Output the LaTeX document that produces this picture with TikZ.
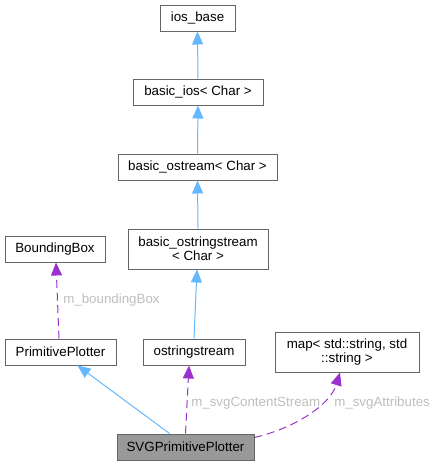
\documentclass[tikz,border=0pt]{standalone}
\usepackage{fontspec}
\setmainfont{Liberation Sans}
\usetikzlibrary{arrows.meta,calc}
\definecolor{inh}{HTML}{63B8FF}
\definecolor{use}{HTML}{9A32CD}
\definecolor{bord}{HTML}{666666}
\definecolor{lbl}{HTML}{BEBEBE}
\definecolor{hl}{HTML}{999999}
\begin{document}
\begin{tikzpicture}[x=0.75pt,y=-0.75pt,
  box/.style={draw=bord, fill=white, line width=0.75pt, inner sep=0pt,
    font=\fontsize{10}{10.5}\selectfont, align=center},
  hlbox/.style={box, fill=hl},
  inhedge/.style={draw=inh, line width=0.75pt, -{Triangle[length=9.75pt,width=8.25pt,fill=inh]}},
  useedge/.style={draw=use, line width=0.75pt, dash pattern=on 6pt off 3.5pt, -{Triangle[length=9.75pt,width=8.25pt,fill=use]}},
  elabel/.style={text=lbl, inner sep=0pt, anchor=west, font=\fontsize{10}{10.5}\selectfont}]
\useasboundingbox (0,0) rectangle (434,465);
\node[box, minimum width={75*0.75pt}, minimum height={26*0.75pt}] (iosb) at (197.5,18) {ios\_base};
\node[box, minimum width={130*0.75pt}, minimum height={26*0.75pt}] (bios) at (198,92) {basic\_ios< Char >};
\node[box, minimum width={159*0.75pt}, minimum height={26*0.75pt}] (bost) at (197.5,167) {basic\_ostream< Char >};
\node[box, minimum width={140*0.75pt}, minimum height={40*0.75pt}] (boss) at (198,249) {basic\_ostringstream\\< Char >};
\node[box, minimum width={100*0.75pt}, minimum height={26*0.75pt}] (bb) at (55,249) {BoundingBox};
\node[box, minimum width={111*0.75pt}, minimum height={26*0.75pt}] (pp) at (60.5,352) {PrimitivePlotter};
\node[box, minimum width={102*0.75pt}, minimum height={26*0.75pt}] (ostr) at (194,352) {ostringstream};
\node[box, minimum width={144*0.75pt}, minimum height={40*0.75pt}] (map) at (347,352) {map< std::string, std\\::string >};
\node[hlbox, minimum width={137*0.75pt}, minimum height={26*0.75pt}] (svg) at (185.5,447) {SVGPrimitivePlotter};

\draw[inhedge] (bios.north) -- (iosb.south);
\draw[inhedge] (bost.north) -- (bios.south);
\draw[inhedge] (boss.north) -- (bost.south);
\draw[inhedge] (ostr.north) -- ($(boss.south)+(-1,0)$);
\draw[inhedge] ($(svg.north west)+(53,0)$) -- ($(pp.south west)+(73,0)$);
\draw[useedge] ($(pp.north)+(-1.5,0)$) -- ($(bb.south)+(1,0)$);
\draw[useedge] (svg.north) -- ($(ostr.south)+(-5,0)$);
\draw[useedge] ($(svg.north east)+(0,4)$) .. controls (295,428) and (330,405) .. ($(map.south)+(-7,0)$);

\node[elabel] (l1) at (63,300) {m\_boundingBox};
\node[elabel] (l2) at (191,403) {m\_svgContentStream};
\node[elabel] (l3) at (334,403) {m\_svgAttributes};
\end{tikzpicture}
\end{document}
